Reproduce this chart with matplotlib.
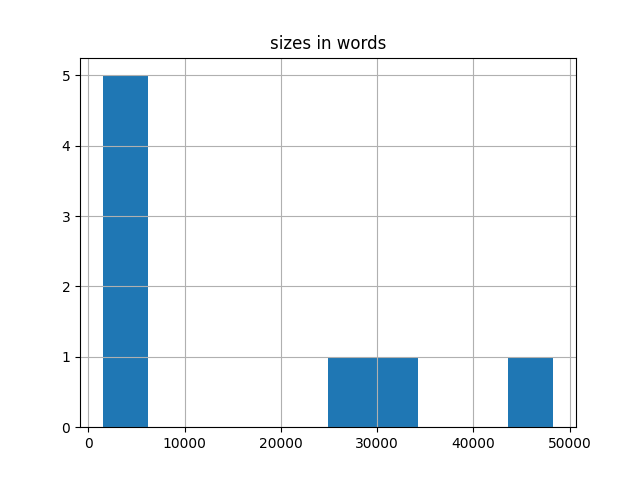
import matplotlib
matplotlib.use("Agg")
import matplotlib.pyplot as plt

# word counts per document (estimated from the histogram)
sizes_in_words = [1460, 2200, 3100, 4300, 5600, 27000, 32000, 48330]

fig, ax = plt.subplots(figsize=(6.4, 4.8), dpi=100)
ax.hist(sizes_in_words, bins=10, color="#1f77b4")
ax.set_title("sizes in words")
ax.grid(True)

fig.savefig("out.png")
